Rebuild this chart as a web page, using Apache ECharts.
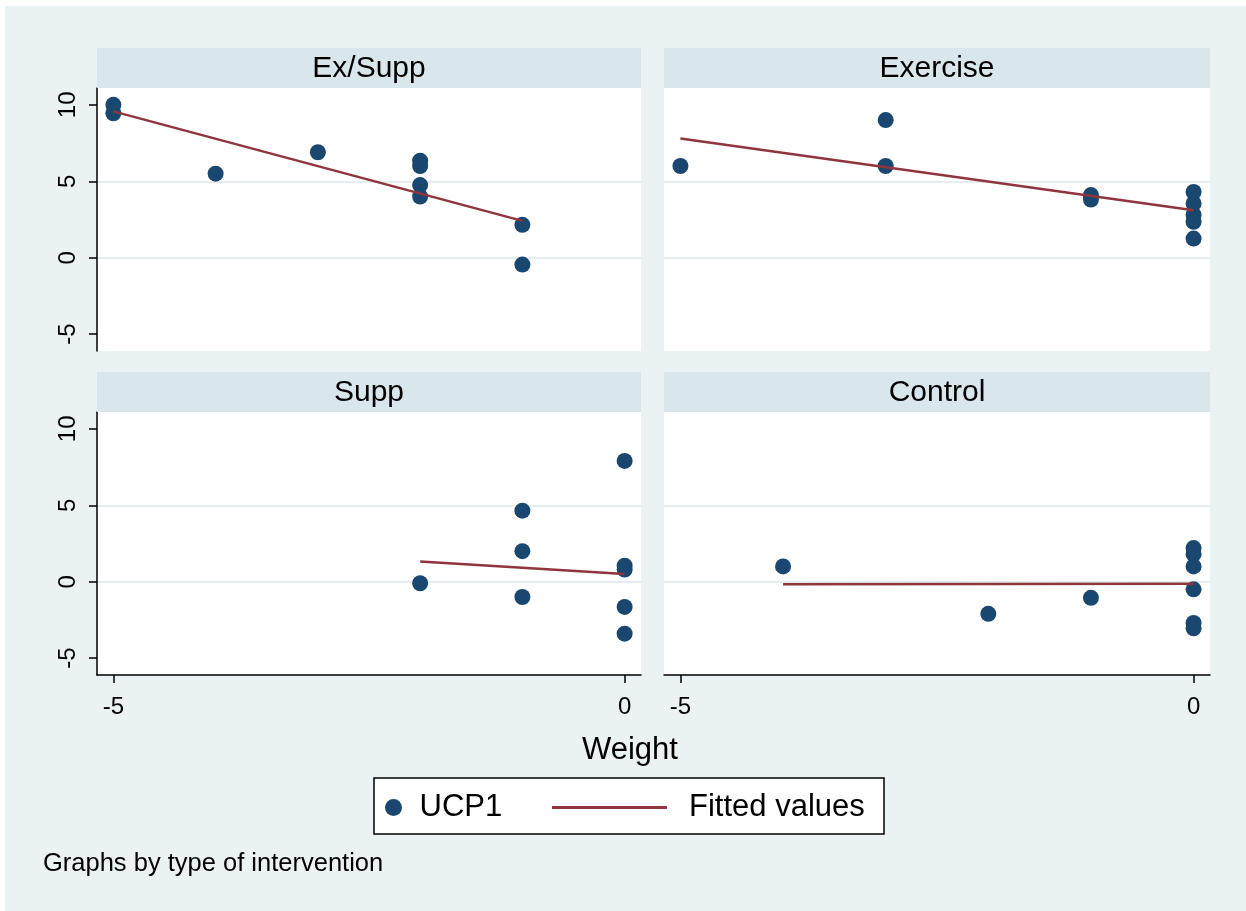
<!DOCTYPE html>
<html><head><meta charset="utf-8">
<script src="https://cdn.jsdelivr.net/npm/echarts@6/dist/echarts.min.js"></script>
<style>html,body{margin:0;padding:0;background:#fff;} #c{position:absolute;left:5px;top:6px;width:1241px;height:905px;}</style>
</head><body><div id="c"></div>
<script>
// ---- data ----
const panelTitles = ['Ex/Supp', 'Exercise', 'Supp', 'Control'];
const xTicks = [-5, 0];
const yTicks = [-5, 0, 5, 10];

const exSuppX = [-5, -5, -4, -3, -2, -2, -2, -2, -1, -1];
const exSuppY = [10.0, 9.45, 5.5, 6.9, 6.35, 6.0, 4.75, 4.0, 2.15, -0.45];
const exSuppFitX = [-5, -1];
const exSuppFitY = [9.57, 2.41];

const exerciseX = [-5, -3, -3, -1, -1, 0, 0, 0, 0, 0];
const exerciseY = [6.0, 9.0, 6.0, 4.1, 3.8, 4.3, 3.55, 2.8, 2.35, 1.25];
const exerciseFitX = [-5, 0];
const exerciseFitY = [7.8, 3.1];

const suppX = [-2, -1, -1, -1, 0, 0, 0, 0, 0];
const suppY = [-0.1, 4.65, 2.0, -1.0, 7.9, 1.05, 0.8, -1.65, -3.4];
const suppFitX = [-2, 0];
const suppFitY = [1.33, 0.5];

const controlX = [-4, -2, -1, 0, 0, 0, 0, 0, 0];
const controlY = [1.0, -2.1, -1.05, 2.2, 1.8, 1.0, -0.5, -2.7, -3.05];
const controlFitX = [-4, 0];
const controlFitY = [-0.17, -0.13];

// ---- layout ----
const OX = 5, OY = 6;
const FONT = 'Liberation Sans';
const NAVY = '#1a476f', MAROON = '#90353b', STRIP = '#d9e6eb', GRIDLINE = '#e4eef0';
const panels = [
  {x: exSuppX, y: exSuppY, fx: exSuppFitX, fy: exSuppFitY, left: 97, top: 88, width: 544, bottom: false, first: true},
  {x: exerciseX, y: exerciseY, fx: exerciseFitX, fy: exerciseFitY, left: 664, top: 88, width: 546, bottom: false, first: false},
  {x: suppX, y: suppY, fx: suppFitX, fy: suppFitY, left: 97, top: 412, width: 544, bottom: true, first: true},
  {x: controlX, y: controlY, fx: controlFitX, fy: controlFitY, left: 664, top: 412, width: 546, bottom: true, first: false}
];
const PH = 263, STRIP_H = 40;

const zip = (a, b) => a.map((v, i) => [v, b[i]]);

const grids = [], xAxes = [], yAxes = [], series = [], graphics = [];
panels.forEach((p, i) => {
  grids.push({left: p.left - OX, top: p.top - OY, width: p.width, height: PH,
    show: true, backgroundColor: '#ffffff', borderWidth: 0, containLabel: false});
  xAxes.push({
    type: 'value', gridIndex: i, min: -5.16, max: 0.16,
    axisLine: {show: p.bottom, onZero: false, lineStyle: {color: '#000', width: 1.5}},
    axisTick: {show: p.bottom, customValues: xTicks, length: 8, lineStyle: {color: '#000', width: 1.5}},
    axisLabel: {show: p.bottom, customValues: xTicks, fontSize: 24, color: '#000', margin: 20, fontFamily: FONT},
    splitLine: {show: false}
  });
  yAxes.push({
    type: 'value', gridIndex: i, min: -6.1, max: 11.1, splitNumber: 3,
    axisLine: {show: p.first, onZero: false, lineStyle: {color: '#000', width: 1.5}},
    axisTick: {show: p.first, customValues: yTicks, length: 8, lineStyle: {color: '#000', width: 1.5}},
    axisLabel: {show: p.first, customValues: yTicks, rotate: 90, fontSize: 24, color: '#000', margin: 17, fontFamily: FONT},
    splitLine: {show: true, showMinLine: false, showMaxLine: false, lineStyle: {color: GRIDLINE, width: 2}}
  });
  series.push({
    name: 'UCP1', type: 'scatter', xAxisIndex: i, yAxisIndex: i,
    data: zip(p.x, p.y), symbol: 'circle', symbolSize: 16,
    itemStyle: {color: NAVY, opacity: 1}, z: 3
  });
  series.push({
    name: 'Fitted values', type: 'line', xAxisIndex: i, yAxisIndex: i,
    data: zip(p.fx, p.fy), symbol: 'none', showSymbol: false,
    lineStyle: {color: MAROON, width: 2.5}, itemStyle: {color: MAROON}, z: 4
  });
  graphics.push({type: 'rect', shape: {x: p.left - OX, y: p.top - STRIP_H - OY, width: p.width, height: STRIP_H},
    style: {fill: STRIP}, z: 1});
  graphics.push({type: 'text', x: p.left - OX + p.width / 2, y: p.top - STRIP_H / 2 - OY + 1,
    style: {text: panelTitles[i], fill: '#000', fontSize: 30, fontFamily: FONT, align: 'center', verticalAlign: 'middle'}, z: 2});
});

graphics.push({type: 'text', x: 630 - OX, y: 750 - OY,
  style: {text: 'Weight', fill: '#000', fontSize: 31, fontFamily: FONT, align: 'center', verticalAlign: 'middle'}, z: 2});
graphics.push({type: 'rect', shape: {x: 374 - OX, y: 778 - OY, width: 510, height: 56},
  style: {fill: '#fff', stroke: '#000', lineWidth: 1.5}, z: 0});
graphics.push({type: 'text', x: 43 - OX, y: 864 - OY,
  style: {text: 'Graphs by type of intervention', fill: '#000', fontSize: 25.5, fontFamily: FONT, align: 'left', verticalAlign: 'middle'}, z: 2});

const chart = echarts.init(document.getElementById('c'), null, {renderer: 'canvas'});
chart.setOption({
  animation: false,
  backgroundColor: '#eaf2f3',
  textStyle: {fontFamily: FONT},
  grid: grids,
  xAxis: xAxes,
  yAxis: yAxes,
  legend: [
    {data: [{name: 'UCP1', icon: 'circle'}], left: 385 - OX, top: 792 - OY, padding: 0,
      itemWidth: 42, itemHeight: 17, selectedMode: false,
      textStyle: {fontSize: 31, color: '#000', fontFamily: FONT, lineHeight: 31}},
    {data: [{name: 'Fitted values', icon: 'rect'}], left: 552 - OX, top: 792 - OY, padding: 0,
      itemWidth: 115, itemHeight: 3, selectedMode: false,
      textStyle: {fontSize: 31, color: '#000', fontFamily: FONT, lineHeight: 31, padding: [0, 0, 0, 17]}}
  ],
  graphic: graphics,
  series: series
});
</script></body></html>
